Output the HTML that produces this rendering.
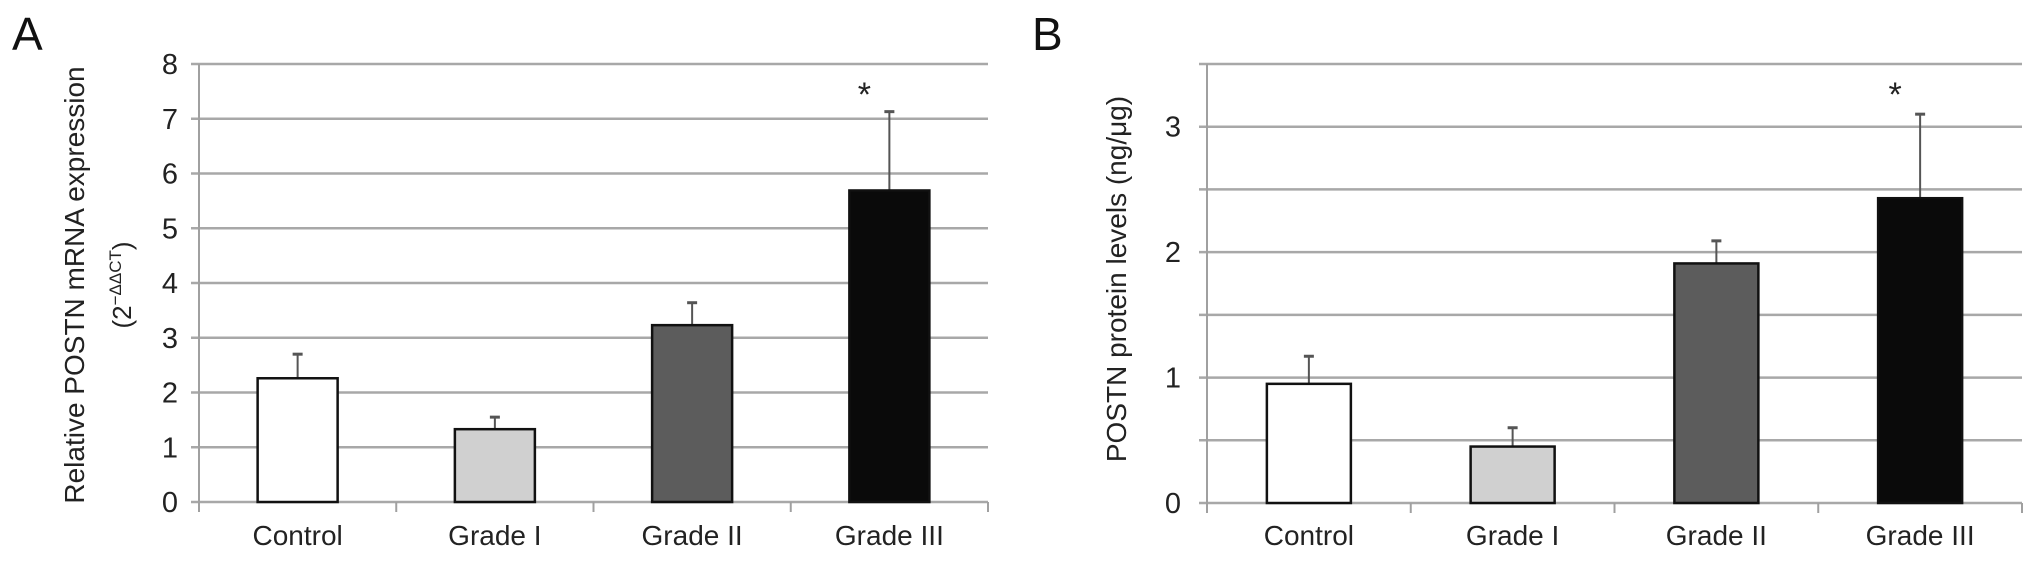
<!DOCTYPE html>
<html><head><meta charset="utf-8"><style>
html,body{margin:0;padding:0;background:#fff;}
svg{display:block;font-family:"Liberation Sans",sans-serif;}
</style></head><body>
<svg id="fig" width="2032" height="578" viewBox="0 0 2032 578" xmlns="http://www.w3.org/2000/svg">
<text x="12" y="50" font-size="46" fill="#111">A</text>
<text x="1032" y="50" font-size="46" fill="#111">B</text>
<text transform="translate(84,285) rotate(-90)" text-anchor="middle" font-size="28" fill="#222">Relative POSTN mRNA expression</text>
<text transform="translate(131,285) rotate(-90)" text-anchor="middle" font-size="26" fill="#222">(2<tspan font-size="17" dy="-10">−ΔΔCT</tspan><tspan dy="10">)</tspan></text>
<text transform="translate(1126,279) rotate(-90)" text-anchor="middle" font-size="28" fill="#222">POSTN protein levels (ng/μg)</text>
</svg>
<script>
const categories = ["Control", "Grade I", "Grade II", "Grade III"];
const fills = ["#ffffff", "#d0d0d0", "#5c5c5c", "#0a0a0a"];
const mrnaValues = [2.26, 1.33, 3.23, 5.69];
const mrnaErrors = [0.44, 0.22, 0.41, 1.44];
const mrnaTicks = [0, 1, 2, 3, 4, 5, 6, 7, 8];
const mrnaTickLabels = ["0", "1", "2", "3", "4", "5", "6", "7", "8"];
const proteinValues = [0.95, 0.45, 1.91, 2.43];
const proteinErrors = [0.22, 0.15, 0.18, 0.67];
const proteinGrid = [0, 0.5, 1, 1.5, 2, 2.5, 3, 3.5];
const proteinTicks = [0, 1, 2, 3];
const proteinTickLabels = ["0", "1", "2", "3"];
const significant = [false, false, false, true];

const svg = document.getElementById('fig');
const NS = 'http://www.w3.org/2000/svg';
function mk(tag, attrs){ const e = document.createElementNS(NS, tag); for (const k in attrs) e.setAttribute(k, attrs[k]); svg.appendChild(e); return e; }

function panel(p){
  const y = v => p.y0 - (v - p.min) / (p.max - p.min) * (p.y0 - p.y1);
  const band = (p.x1 - p.x0) / categories.length;
  const xc = i => p.x0 + band * (i + 0.5);
  p.grid.forEach(v => {
    const g = mk('line', {x1: p.x0 - 8, x2: p.x1, y1: y(v), y2: y(v), stroke: '#a8a8a8', 'stroke-width': 2.5});
    
    
  });
  const ax = mk('line', {x1: p.x0, x2: p.x0, y1: y(p.max), y2: y(p.min) + 10, stroke: '#a0a0a0', 'stroke-width': 2});
  
  
  for (let i = 1; i <= categories.length; i++) {
    const t = mk('line', {x1: p.x0 + band * i, x2: p.x0 + band * i, y1: y(p.min), y2: y(p.min) + 10, stroke: '#a0a0a0', 'stroke-width': 2});
    
    
  }
  p.ticks.forEach((v, i) => {
    const t = mk('text', {x: p.tx, y: y(v) + 10, 'text-anchor': 'middle', 'font-size': 29, fill: '#222'});
    t.textContent = p.tickLabels[i];
    
    
  });
  categories.forEach((c, i) => {
    const cx = xc(i);
    const top = y(p.values[i]);
    const etop = y(p.values[i] + p.errors[i]);
    const el = mk('line', {x1: cx, x2: cx, y1: top, y2: etop, stroke: '#555', 'stroke-width': 2});
    
    
    const cap = mk('line', {x1: cx - 5, x2: cx + 5, y1: etop, y2: etop, stroke: '#555', 'stroke-width': 3});
    
    
    const r = mk('rect', {x: cx - p.bw / 2, y: top, width: p.bw, height: y(p.min) - top, fill: fills[i], stroke: '#111', 'stroke-width': 2.5});
    
    
    const lb = mk('text', {x: cx, y: 545, 'text-anchor': 'middle', 'font-size': 28, fill: '#222'});
    lb.textContent = c;
    
    
    if (significant[i]) {
      const s = mk('text', {x: cx - 25, y: 106, 'text-anchor': 'middle', 'font-size': 34, fill: '#222'});
      s.textContent = '*';
      
      
    }
  });
}

panel({id: 'panel-a', x0: 199, x1: 988, y0: 502, y1: 64, min: 0, max: 8, grid: mrnaTicks, ticks: mrnaTicks, tickLabels: mrnaTickLabels, tx: 170, bw: 80, values: mrnaValues, errors: mrnaErrors});
panel({id: 'panel-b', x0: 1207, x1: 2022, y0: 503, y1: 64, min: 0, max: 3.5, grid: proteinGrid, ticks: proteinTicks, tickLabels: proteinTickLabels, tx: 1173, bw: 84, values: proteinValues, errors: proteinErrors});
</script>
</body></html>
